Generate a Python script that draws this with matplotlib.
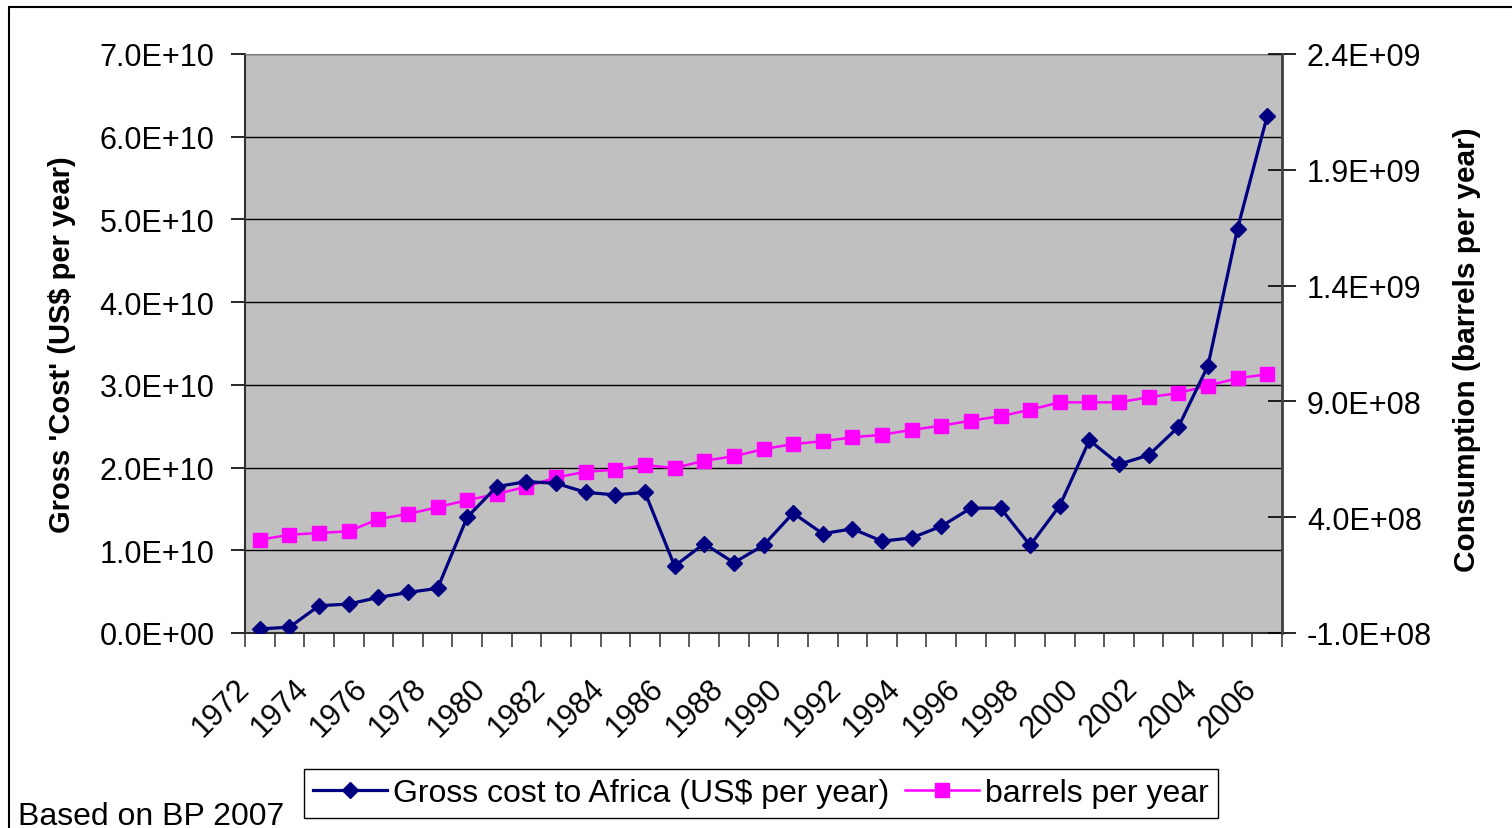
import numpy as np
import matplotlib
matplotlib.use("Agg")
import matplotlib.pyplot as plt
from matplotlib.patches import Rectangle
from matplotlib.lines import Line2D
import matplotlib.transforms as mtransforms

plt.rcParams['font.family'] = ['Liberation Sans', 'DejaVu Sans']

years = list(range(1972, 2007))
gross_cost = [0.05e10, 0.07e10, 0.33e10, 0.35e10, 0.43e10, 0.49e10, 0.54e10,
              1.40e10, 1.77e10, 1.83e10, 1.81e10, 1.70e10, 1.67e10, 1.70e10,
              0.81e10, 1.08e10, 0.85e10, 1.06e10, 1.45e10, 1.20e10, 1.26e10,
              1.11e10, 1.15e10, 1.29e10, 1.51e10, 1.51e10, 1.06e10, 1.54e10,
              2.33e10, 2.04e10, 2.15e10, 2.49e10, 3.23e10, 4.89e10, 6.25e10]
barrels = [3.03e8, 3.24e8, 3.32e8, 3.39e8, 3.92e8, 4.14e8, 4.43e8, 4.74e8,
           5.00e8, 5.32e8, 5.72e8, 5.96e8, 6.05e8, 6.25e8, 6.12e8, 6.44e8,
           6.63e8, 6.94e8, 7.16e8, 7.28e8, 7.45e8, 7.56e8, 7.77e8, 7.95e8,
           8.17e8, 8.36e8, 8.64e8, 8.96e8, 8.96e8, 8.96e8, 9.18e8, 9.36e8,
           9.68e8, 1.00e9, 1.017e9]
left_ticks = [0, 1e10, 2e10, 3e10, 4e10, 5e10, 6e10, 7e10]
right_ticks = [-1e8, 4e8, 9e8, 1.4e9, 1.9e9, 2.4e9]
label_years = years[::2]

W, H = 1512, 829
FS = 22
fig = plt.figure(figsize=(W / 100, H / 100), dpi=100)
rect = [245 / W, 1 - 634 / H, 1037 / W, 579 / H]
ax = fig.add_axes(rect)
ax.set_facecolor('#C0C0C0')
ax2 = ax.twinx()
ax2.patch.set_visible(False)

x = np.arange(len(years))
ax.set_xlim(-0.5, len(years) - 0.5)
ax.set_ylim(left_ticks[0], left_ticks[-1])
ax2.set_ylim(right_ticks[0], right_ticks[-1])

ax.set_yticks(left_ticks)
ax.set_yticklabels([f"{v:.1E}" for v in left_ticks], fontsize=FS)
ax2.set_yticks(right_ticks)
ax2.set_yticklabels([f"{v:.1E}" for v in right_ticks], fontsize=FS)

ax.grid(axis='y', color='black', lw=1.0)
ax.set_axisbelow(True)

# magenta on the secondary axis, blue on top (drawn on ax2 with primary-axis transform)
ax2.plot(x, barrels, color='#FF00FF', lw=1.8, marker='s', ms=10.5, zorder=3)
ax2.plot(x, gross_cost, color='#000080', lw=2.3, marker='D', ms=8.5,
         zorder=4, transform=ax.transData)

# x ticks: minor at category boundaries, labels at centres
ax.set_xticks(np.arange(-0.5, len(years), 1.0), minor=True)
ax.set_xticks([years.index(y) for y in label_years])
ax.set_xticklabels([str(y) for y in label_years], fontsize=FS, rotation=45,
                   ha='right', va='top', rotation_mode='anchor')
ax.tick_params(axis='x', which='major', length=0, pad=26)
ax.tick_params(axis='x', which='minor', length=10, width=1.2, color='#404040', direction='out')
off = mtransforms.ScaledTranslation(-26 / 100, -4 / 100, fig.dpi_scale_trans)
for lab in ax.get_xticklabels():
    lab.set_transform(lab.get_transform() + off)

ax.tick_params(axis='y', which='major', length=10, width=1.2, direction='out', pad=12)
ax2.tick_params(axis='y', which='major', length=20, width=1.2, direction='inout', pad=8)
ax2.tick_params(axis='x', which='both', length=0)

for s in ['left', 'bottom']:
    ax.spines[s].set_color('#303030')
    ax.spines[s].set_linewidth(1.5)
ax.spines['top'].set_color('#808080')
ax.spines['right'].set_visible(False)
for s in ['left', 'bottom', 'top']:
    ax2.spines[s].set_visible(False)
ax2.spines['right'].set_color('#404040')
ax2.spines['right'].set_linewidth(2.0)

fig.text(62 / W, 1 - 345 / H, "Gross 'Cost' (US$ per year)", rotation=90,
         fontsize=21, fontweight='bold', ha='center', va='center')
fig.text(1467 / W, 1 - 350 / H, "Consumption (barrels per year)", rotation=90,
         fontsize=21.5, fontweight='bold', ha='center', va='center')
fig.text(18 / W, 1 - 825 / H, "Based on BP 2007", fontsize=FS + 1, ha='left', va='baseline')

h1 = Line2D([], [], color='#000080', lw=2.3, marker='D', ms=8.5)
h2 = Line2D([], [], color='#FF00FF', lw=1.8, marker='s', ms=10.5)
leg = fig.legend([h1, h2], ['Gross cost to Africa (US$ per year)', 'barrels per year'],
                 loc='center', bbox_to_anchor=(761 / W, 1 - 794.5 / H), ncol=2,
                 fontsize=FS + 1, frameon=True, fancybox=False, edgecolor='black',
                 framealpha=1, handlelength=2.3, handletextpad=0.2, columnspacing=0.5,
                 borderpad=0.3, borderaxespad=0)
leg.get_frame().set_linewidth(1.0)

fig.patches.append(Rectangle((9 / W, -0.2), 1.5, 1 - 8 / H + 0.2, transform=fig.transFigure,
                             fill=False, edgecolor='black', lw=1.5, zorder=-5))

fig.savefig('out.png', dpi=100)
